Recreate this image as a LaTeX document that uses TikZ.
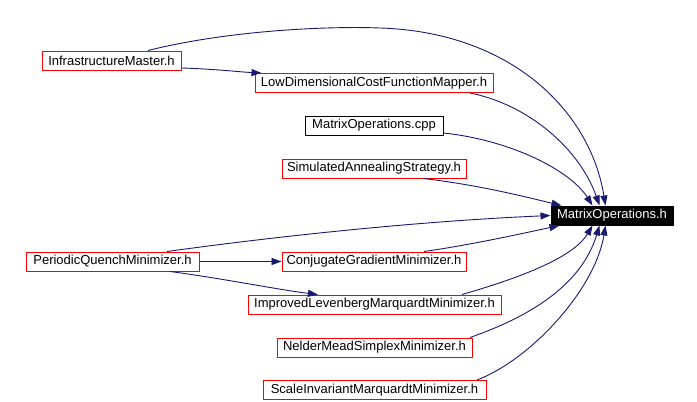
\documentclass[tikz,border=0pt]{standalone}
\usepackage{fontspec}
\setmainfont{Liberation Sans}
\usetikzlibrary{arrows.meta,calc}
\definecolor{edgeblue}{HTML}{191970}
\begin{document}
\begin{tikzpicture}[x=1pt,y=-1pt,
  fbox/.style={draw=red,line width=1pt,rectangle,inner sep=0pt,minimum height=19pt,font=\fontsize{13}{15}\selectfont},
  blackbox/.style={fbox,draw=black},
  mainbox/.style={fbox,draw=black,fill=black,text=white},
  dep/.style={draw=edgeblue,line width=0.9pt,-{Triangle[length=10pt,width=7pt]}}]
\useasboundingbox (0,0) rectangle (697,402);
\node[fbox,minimum width=139pt] (inf) at (111.5,60.5) {InfrastructureMaster.h};
\node[fbox,minimum width=238pt] (low) at (374,83) {LowDimensionalCostFunctionMapper.h};
\node[blackbox,minimum width=138pt] (cpp) at (374,125.5) {MatrixOperations.cpp};
\node[fbox,minimum width=184pt] (sa) at (374,168.5) {SimulatedAnnealingStrategy.h};
\node[mainbox,minimum width=122pt] (mh) at (612,215.5) {MatrixOperations.h};
\node[fbox,minimum width=173pt] (pq) at (112.5,261.5) {PeriodicQuenchMinimizer.h};
\node[fbox,minimum width=184pt] (cg) at (374,261.5) {ConjugateGradientMinimizer.h};
\node[fbox,minimum width=253pt] (ilm) at (374.5,304.5) {ImprovedLevenbergMarquardtMinimizer.h};
\node[fbox,minimum width=195pt] (nm) at (374.5,347.5) {NelderMeadSimplexMinimizer.h};
\node[fbox,minimum width=223pt] (sim) at (374.5,390) {ScaleInvariantMarquardtMinimizer.h};
% edges
\draw[dep] ([xshift=36.5pt]inf.north) .. controls (230,30) and (330,26) .. (380,28) .. controls (510,32) and (590,110) .. ([xshift=55pt]mh.north west);
\draw[dep] ([yshift=-7.5pt]inf.east) .. controls (215,69) and (240,72) .. ([xshift=7pt]low.north west);
\draw[dep] ([xshift=96pt]low.south) .. controls (530,105) and (580,150) .. ([xshift=49pt]mh.north west);
\draw[dep] ([yshift=-7.5pt]cpp.east) .. controls (510,140) and (570,170) .. ([xshift=42pt]mh.north west);
\draw[dep] ([xshift=49pt]sa.south) .. controls (480,185) and (530,198) .. ([xshift=11pt]mh.north west);
\draw[dep] ([xshift=54.5pt]pq.north) .. controls (250,240) and (400,222) .. (mh.west);
\draw[dep] (pq.east) -- (cg.west);
\draw[dep] ([xshift=57.5pt]pq.south) .. controls (220,278) and (280,290) .. ([xshift=-56.5pt]ilm.north);
\draw[dep] ([xshift=50pt]cg.north) .. controls (470,245) and (520,234) .. ([xshift=9pt]mh.south west);
\draw[dep] ([xshift=87.5pt]ilm.north) .. controls (530,275) and (575,255) .. ([xshift=42pt]mh.south west);
\draw[dep] ([xshift=95.5pt]nm.north) .. controls (520,320) and (580,290) .. ([xshift=49pt]mh.south west);
\draw[dep] ([xshift=102.5pt]sim.north) .. controls (530,360) and (595,290) .. ([xshift=55pt]mh.south west);
\end{tikzpicture}
\end{document}
